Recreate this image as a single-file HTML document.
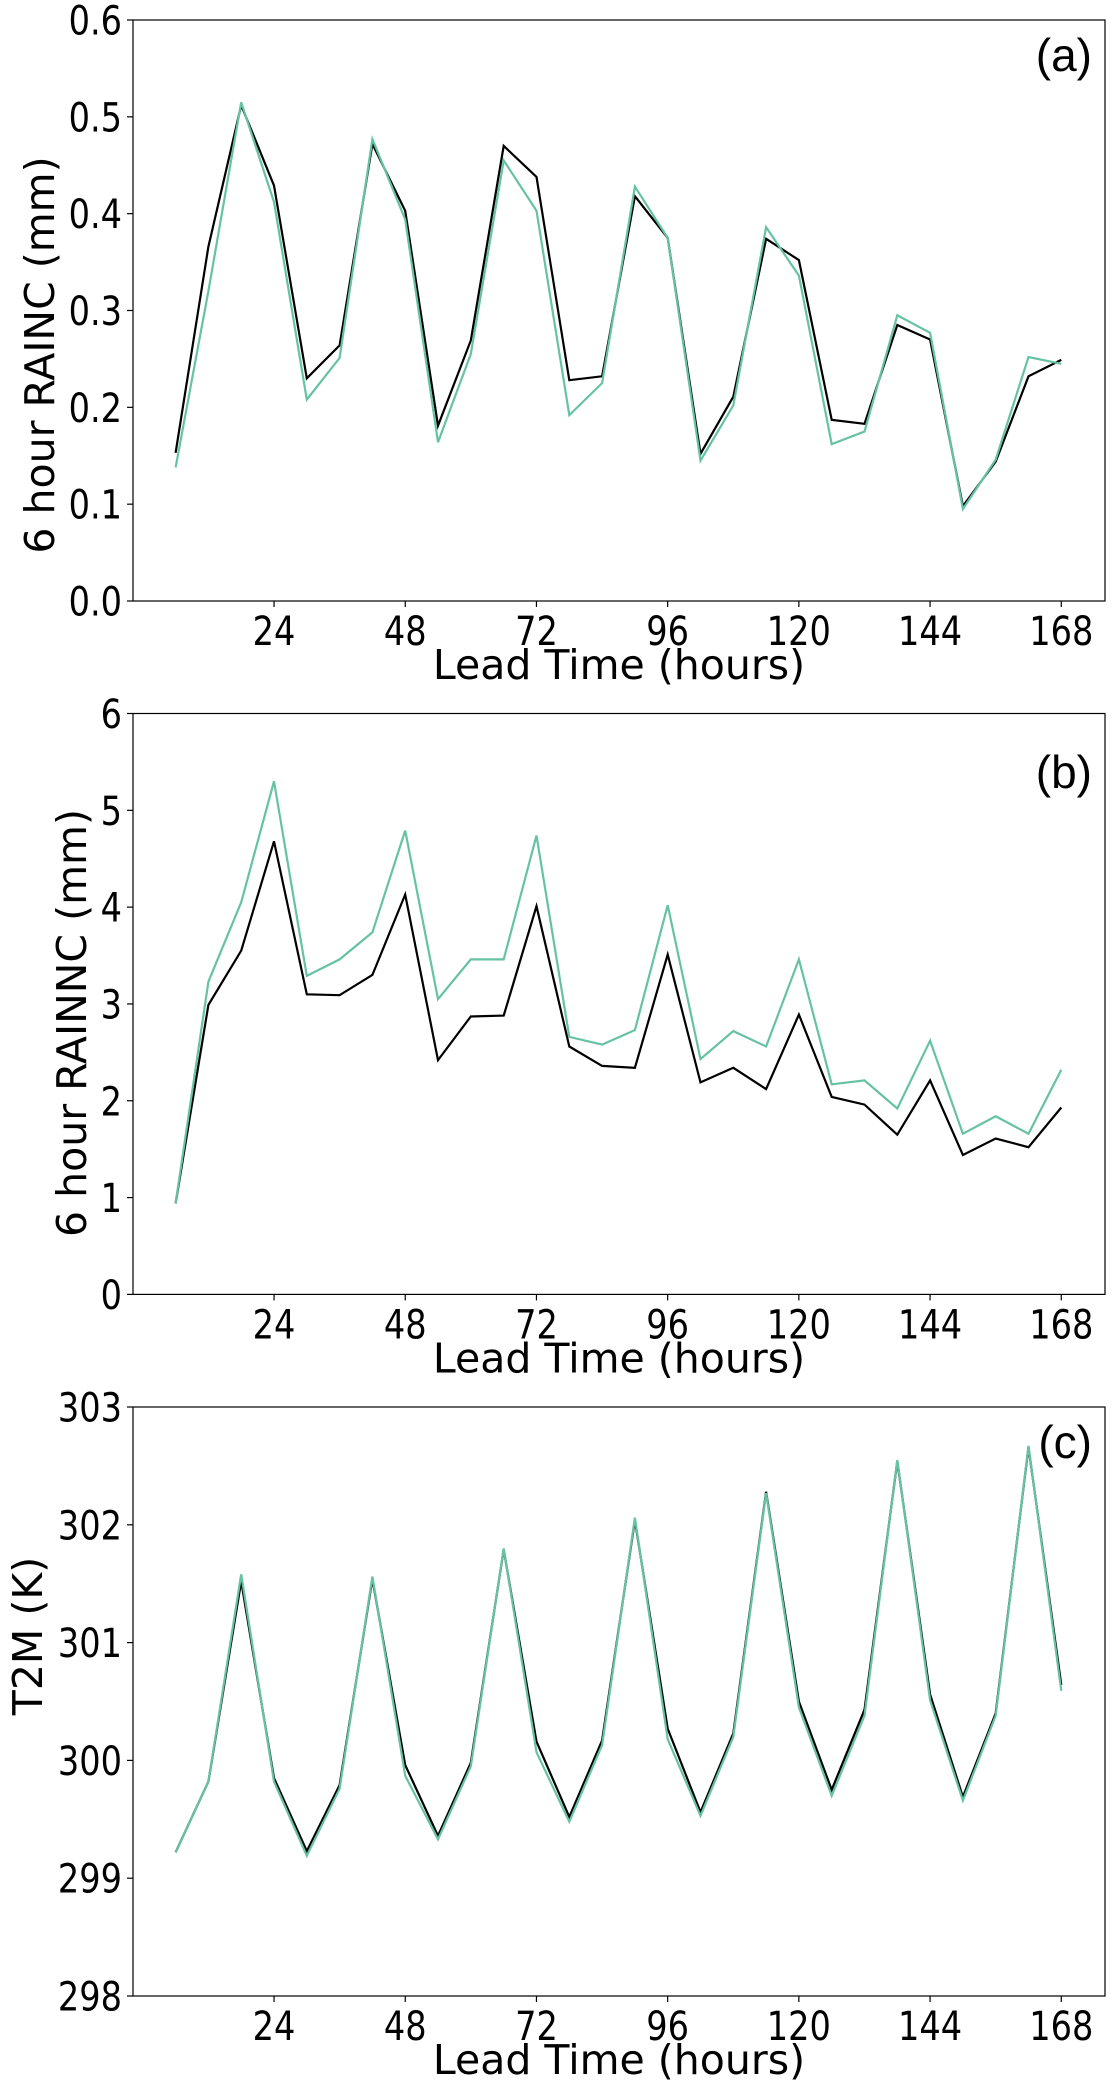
<!DOCTYPE html>
<html><head><meta charset="utf-8">
<style>
html,body{margin:0;padding:0;background:#fff;}
svg{display:block;}
text{font-family:"DejaVu Sans","Liberation Sans",sans-serif;fill:#000;}
</style></head>
<body>
<svg id="fig" width="1112" height="2080" viewBox="0 0 1112 2080" xmlns="http://www.w3.org/2000/svg"></svg>
<script>
const hours = [6,12,18,24,30,36,42,48,54,60,66,72,78,84,90,96,102,108,114,120,126,132,138,144,150,156,162,168];
const xTicks = [24,48,72,96,120,144,168];
const rainc_ctrl = [0.153,0.366,0.512,0.429,0.230,0.264,0.472,0.403,0.181,0.269,0.470,0.438,0.228,0.232,0.418,0.375,0.152,0.211,0.374,0.352,0.187,0.183,0.285,0.270,0.098,0.144,0.232,0.249];
const rainc_exp = [0.138,0.320,0.515,0.412,0.208,0.251,0.477,0.394,0.164,0.255,0.455,0.403,0.192,0.225,0.428,0.375,0.145,0.202,0.386,0.336,0.162,0.175,0.295,0.277,0.095,0.146,0.252,0.245];
const rainnc_ctrl = [0.94,2.99,3.55,4.68,3.10,3.09,3.30,4.13,2.42,2.87,2.88,4.01,2.56,2.36,2.34,3.51,2.19,2.34,2.12,2.89,2.04,1.96,1.65,2.21,1.44,1.61,1.52,1.93];
const rainnc_exp = [0.94,3.23,4.05,5.30,3.29,3.46,3.74,4.79,3.05,3.46,3.46,4.74,2.66,2.58,2.73,4.02,2.43,2.72,2.56,3.46,2.17,2.21,1.92,2.62,1.66,1.84,1.66,2.32];
const t2m_ctrl = [299.22,299.82,301.52,299.85,299.23,299.79,301.54,299.96,299.36,299.98,301.79,300.16,299.52,300.17,302.04,300.27,299.56,300.23,302.28,300.50,299.75,300.43,302.54,300.56,299.69,300.40,302.66,300.64];
const t2m_exp = [299.22,299.82,301.58,299.82,299.19,299.76,301.56,299.87,299.33,299.95,301.80,300.07,299.48,300.13,302.06,300.18,299.53,300.20,302.27,300.45,299.70,300.38,302.55,300.51,299.66,300.38,302.67,300.59];
const yTicksA = ["0.0","0.1","0.2","0.3","0.4","0.5","0.6"];
const yTicksB = ["0","1","2","3","4","5","6"];
const yTicksC = ["298","299","300","301","302","303"];

const NS="http://www.w3.org/2000/svg";
const svg=document.getElementById('fig');
function mk(tag,attrs,parent){const e=document.createElementNS(NS,tag);for(const k in attrs)e.setAttribute(k,attrs[k]);(parent||svg).appendChild(e);return e;}

const L=133,R=1105,XMIN=-1.8,XMAX=176;
function xs(h){return L+(h-XMIN)/(XMAX-XMIN)*(R-L);}
const SX=0.84;

function panel(id,top,bot,ymin,ymax,yTicks,ylabel,ylabelX,ylabelY,tag,tagY,ctrl,exp){
  const g=mk('g',{});
  
  
  const ys=v=>bot-(v-ymin)/(ymax-ymin)*(bot-top);
  yTicks.forEach(t=>{
    const v=parseFloat(t),y=ys(v);
    const tk=mk('line',{x1:L-6,x2:L,y1:y,y2:y,stroke:'#000','stroke-width':1.2},g);
    
    
    const tx=mk('text',{x:0,y:0,'text-anchor':'end','font-size':40,transform:`translate(${L-11} ${y+14.5}) scale(${SX} 1)`},g);
    tx.textContent=t;
    
    
  });
  xTicks.forEach(h=>{
    const x=xs(h);
    const tk=mk('line',{x1:x,x2:x,y1:bot,y2:bot+6,stroke:'#000','stroke-width':1.2},g);
    
    
    const tx=mk('text',{x:0,y:0,'text-anchor':'middle','font-size':40,transform:`translate(${x} ${bot+44}) scale(${SX} 1)`},g);
    tx.textContent=String(h);
    
    
  });
  const xl=mk('text',{x:(L+R)/2,y:bot+78,'text-anchor':'middle','font-size':41},g);
  xl.textContent='Lead Time (hours)';
  
  
  const cy=ylabelY;
  const yl=mk('text',{x:ylabelX,y:cy,'text-anchor':'middle','font-size':41,transform:`rotate(-90 ${ylabelX} ${cy}) translate(0 14)`},g);
  yl.textContent=ylabel;
  
  
  const mkLine=(vals,col,name)=>{
    const d=vals.map((v,i)=>(i?'L':'M')+xs(hours[i]).toFixed(1)+' '+ys(v).toFixed(1)).join(' ');
    const p=mk('path',{d:d,fill:'none',stroke:col,'stroke-width':2.2,'stroke-linejoin':'miter'},g);
    
    
  };
  mkLine(ctrl,'#000000','series-control');
  mkLine(exp,'#66c2a5','series-experiment');
  const fr=mk('rect',{x:L,y:top,width:R-L,height:bot-top,fill:'none',stroke:'#000','stroke-width':1.2},g);
  
  
  const tg=mk('text',{x:1092,y:tagY,'text-anchor':'end','font-size':46,style:'font-family:"Liberation Sans",sans-serif'},g);
  tg.textContent=tag;
  
  
}
panel('panel-a-rainc',20,601,0,0.6,yTicksA,'6 hour RAINC (mm)',40,355,'(a)',71,rainc_ctrl,rainc_exp);
panel('panel-b-rainnc',713.5,1294.4,0,6,yTicksB,'6 hour RAINNC (mm)',72,1023,'(b)',788,rainnc_ctrl,rainnc_exp);
panel('panel-c-t2m',1407,1996,298,303,yTicksC,'T2M (K)',28,1636,'(c)',1458,t2m_ctrl,t2m_exp);
</script>
</body></html>
